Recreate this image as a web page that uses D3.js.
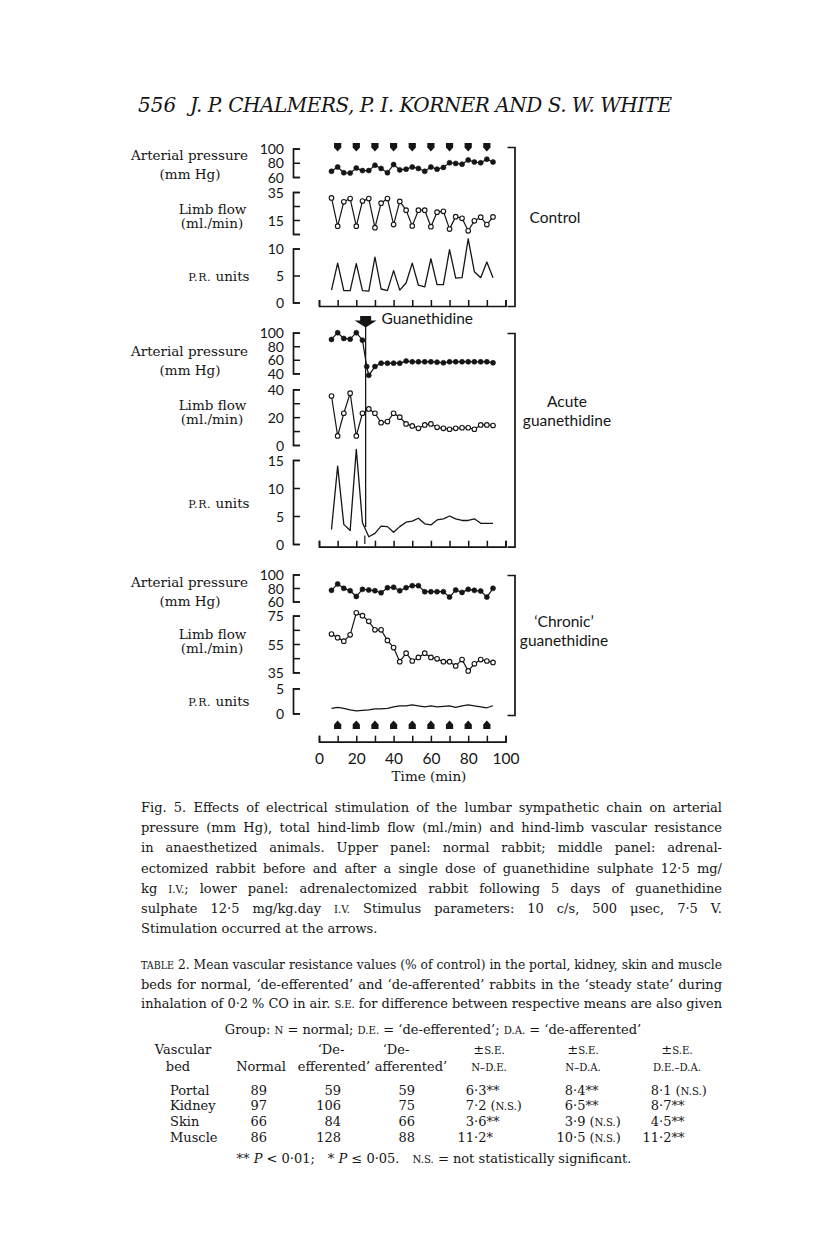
<!DOCTYPE html>
<html>
<head>
<meta charset="utf-8">
<script src="https://cdn.jsdelivr.net/npm/d3@7"></script>
<style>
body { margin: 0; background: #fff; }
svg text { fill: #151515; }
.serif { font-family: "DejaVu Serif", serif; }
.sans { font-family: Lato, "Open Sans", sans-serif; }
</style>
</head>
<body>
<div id="chart"></div>
<script>
//
// Data
//
var minutes = [6.7, 10, 13.3, 16.7, 20, 23.3, 26.7, 30, 33.3, 36.7, 40, 43.3, 46.7, 50,
	53.3, 56.7, 60, 63.3, 66.7, 70, 73.3, 76.7, 80, 83.3, 86.7, 90, 93.3];
var acutePressureMinutes = [6.7, 10, 13.3, 16.7, 20, 23.3, 25.6, 26.7, 30, 33.3, 36.7, 40, 43.3, 46.7, 50,
	53.3, 56.7, 60, 63.3, 66.7, 70, 73.3, 76.7, 80, 83.3, 86.7, 90, 93.3];
var stimMinutes = [10, 20, 30, 40, 50, 60, 70, 80, 90];
var injectionMinute = 25;
var timeTicks = [0, 10, 20, 30, 40, 50, 60, 70, 80, 90, 100];
var timeLabels = [0, 20, 40, 60, 80, 100];

// upper panel: normal rabbit
var controlPressure = [68, 74, 66, 65.5, 72.5, 69, 69, 76.5, 72, 66, 77.5, 70, 71, 74, 72, 68, 74, 71, 73.5,
	80, 79, 78, 84, 81, 80, 85, 81];
var controlFlow = [30.8, 10.6, 28, 30.3, 10.6, 28.5, 30.3, 9.5, 27, 30.3, 11.7, 28.3, 22, 10.8, 22, 22, 10.2,
	20.6, 21.2, 8.5, 17.4, 16.2, 7.3, 14.4, 17, 11.7, 17.2];
var controlPR = [2.3, 7.3, 2.2, 2.2, 7.2, 2.2, 2.1, 8.4, 2.5, 2.2, 5.9, 2.3, 3.6, 7.3, 3.2, 2.9, 8.1, 3.3, 3.3,
	9.8, 4.5, 4.6, 11.8, 5.7, 4.6, 7.5, 4.6];

// middle panel: acute guanethidine
var acutePressure = [90, 100, 91.5, 90.5, 100, 89, 50, 37, 50, 55, 55, 55, 55, 58, 57, 57, 57, 57, 56.5, 55.5,
	57, 57, 57, 57, 57, 57, 57, 55.5];
var acuteFlow = [35.2, 6.5, 22.8, 37.2, 6.5, 22.8, 25.9, 22.8, 16, 16.8, 22.8, 20, 15.1, 13.7, 12, 14.4, 15.1,
	12.7, 12, 11.3, 12, 12.4, 12.4, 11.3, 14.4, 14.4, 14];
var acutePR = [2.6, 13.9, 3.5, 2.4, 16.9, 3.8, 1.3, 1.9, 3.2, 3.1, 2.1, 3.1, 3.9, 4.1, 4.6, 3.6, 3.4, 4.3, 4.5,
	5.0, 4.5, 4.2, 4.2, 4.5, 3.7, 3.7, 3.7];

// lower panel: 'chronic' guanethidine
var chronicPressure = [76.5, 86, 79.5, 76, 67.5, 78, 77, 76, 73, 80.5, 81, 76, 80.5, 83.5, 83.5, 74.5, 74.5,
	74.5, 74.5, 66.5, 77, 73.5, 78, 76.5, 75.5, 66.5, 79.5];
var chronicFlow = [62, 59.5, 57, 61.5, 77, 75, 71, 65, 65, 57.5, 52.5, 42.5, 48.5, 43, 45.5, 48.5, 45.5, 44.5,
	42.5, 42.5, 39.5, 44, 36, 41, 44, 43, 42];
var chronicPR = [1.0, 1.2, 1.0, 0.7, 0.5, 0.6, 0.7, 0.9, 0.9, 1.0, 1.3, 1.5, 1.5, 1.7, 1.5, 1.3, 1.5, 1.3, 1.4,
	1.5, 1.2, 1.5, 1.7, 1.5, 1.3, 1.1, 1.5];

// bracket ticks and their labels
var pressureTicks60 = [60, 80, 100];
var pressureTicks40 = [40, 60, 80, 100];
var controlFlowTicks = [5, 15, 25, 35], controlFlowLabels = [15, 35];
var acuteFlowTicks = [0, 10, 20, 30, 40], acuteFlowLabels = [0, 20, 40];
var chronicFlowTicks = [35, 45, 55, 65, 75], chronicFlowLabels = [35, 55, 75];
var controlPRTicks = [0, 5, 10];
var acutePRTicks = [0, 5, 10, 15];
var chronicPRTicks = [0, 5];

// table 2
var tableBeds = ["Portal", "Kidney", "Skin", "Muscle"];
var tableNormal = [89, 97, 66, 86];
var tableDeEfferented = [59, 106, 84, 128];
var tableDeAfferented = [59, 75, 66, 88];
var seNDE = [["6", "·3**"], ["7", "·2 (", "N.S.", ")"], ["3", "·6**"], ["11", "·2*"]];
var seNDA = [["8", "·4**"], ["6", "·5**"], ["3", "·9 (", "N.S.", ")"], ["10", "·5 (", "N.S.", ")"]];
var seDEDA = [["8", "·1 (", "N.S.", ")"], ["8", "·7**"], ["4", "·5**"], ["11", "·2**"]];

//
// Set up
//
var W = 816, H = 1249;
var svg = d3.select("#chart").append("svg")
	.attr("width", W)
	.attr("height", H);

svg.append("rect")
	.attr("width", W)
	.attr("height", H)
	.attr("fill", "#fff");

var x = d3.scaleLinear().domain([0, 100]).range([319, 505.5]);

var BRACKET_X = 293,
	RIGHT_X = 514.5,
	INK = "#151515",
	BODY = 13,
	SC = 0.78;

function zip(ts, vs) {
	return vs.map(function(v, i) { return { t: ts[i], v: v }; });
}

// left bracket with labels on its left side
function bracket(y, ticks, labels) {
	var axis = d3.axisRight(y)
		.tickValues(ticks)
		.tickSize(7)
		.tickSizeOuter(7)
		.tickFormat(function(d) { return labels.indexOf(d) >= 0 ? d : ""; });

	var g = svg.append("g")
		.attr("transform", "translate(" + BRACKET_X + ",0)")
		.call(axis);

	g.select(".domain").attr("stroke", INK).attr("stroke-width", 1.7).attr("fill", "none");
	g.selectAll(".tick line").attr("stroke", INK).attr("stroke-width", 1.5);
	g.selectAll(".tick text")
		.attr("x", -9)
		.attr("dy", "0.36em")
		.attr("text-anchor", "end")
		.attr("class", "sans")
		.style("font-size", "14px")
		.attr("fill", INK);
}

function timeAxis(yPos, withLabels) {
	var axis = d3.axisBottom(x)
		.tickValues(timeTicks)
		.tickSize(-6)
		.tickSizeOuter(-6)
		.tickPadding(11)
		.tickFormat(function(d) { return withLabels && timeLabels.indexOf(d) >= 0 ? d : ""; });

	var g = svg.append("g")
		.attr("transform", "translate(0," + yPos + ")")
		.call(axis);
	g.select(".domain").attr("stroke", INK).attr("stroke-width", 1.7).attr("fill", "none");
	g.selectAll(".tick line").attr("stroke", INK).attr("stroke-width", 1.5);
	g.selectAll(".tick text")
		.attr("class", "sans")
		.style("font-size", "15.5px")
		.attr("fill", INK);
}

function rightBracket(y0, y1) {
	var s = d3.scaleLinear().domain([0, 1]).range([y0, y1]);
	var g = svg.append("g")
		.attr("transform", "translate(" + RIGHT_X + ",0)")
		.call(d3.axisLeft(s).tickValues([]).tickSizeOuter(7));
	g.select(".domain").attr("stroke", INK).attr("stroke-width", 1.7).attr("fill", "none");
}

function traceLine(y, pts, width) {
	svg.append("path")
		.datum(pts)
		.attr("d", d3.line().x(function(d) { return x(d.t); }).y(function(d) { return y(d.v); }))
		.attr("fill", "none")
		.attr("stroke", INK)
		.attr("stroke-width", width || 1.2)
		.attr("stroke-linejoin", "round");
}

function dots(y, pts, open) {
	svg.append("g").selectAll("circle")
		.data(pts)
		.enter()
		.append("circle")
		.attr("cx", function(d) { return x(d.t); })
		.attr("cy", function(d) { return y(d.v); })
		.attr("r", open ? 2.3 : 2.5)
		.attr("fill", open ? "#fff" : INK)
		.attr("stroke", INK)
		.attr("stroke-width", open ? 1.1 : 0.6);
}

function stimArrows(yc, up) {
	var s = up ? -1 : 1;
	svg.append("g").selectAll("path")
		.data(stimMinutes)
		.enter()
		.append("path")
		.attr("d", function(d) {
			var cx = x(d);
			return "M" + (cx - 3.6) + "," + (yc - 4 * s) +
				"L" + (cx + 3.6) + "," + (yc - 4 * s) +
				"L" + (cx + 3.6) + "," + (yc + 0.6 * s) +
				"L" + cx + "," + (yc + 4.6 * s) +
				"L" + (cx - 3.6) + "," + (yc + 0.6 * s) + "Z";
		})
		.attr("fill", INK);
}

// serif text with optional small caps parts; justify = stretch the word gaps to a width
function rich(g, xPos, yPos, parts, size, anchor, justify) {
	var t = g.append("text")
		.attr("class", "serif")
		.attr("x", xPos)
		.attr("y", yPos)
		.attr("text-anchor", anchor || "start")
		.style("font-size", size + "px")
		.attr("xml:space", "preserve");
	var spaces = 0;
	parts.forEach(function(p) {
		var s = typeof p === "string" ? p : p.sc;
		spaces += (s.match(/ /g) || []).length;
		var ts = t.append("tspan").text(s);
		if (typeof p !== "string") ts.style("font-size", (size * SC) + "px");
		if (p.it) ts.style("font-style", "italic");
	});
	if (justify) {
		var natural = t.node().getComputedTextLength();
		if (natural > justify || spaces === 0) {
			t.attr("textLength", justify).attr("lengthAdjust", "spacingAndGlyphs");
		} else {
			t.style("word-spacing", ((justify - natural) / spaces) + "px");
		}
	}
	return t;
}

function leftLabels(apY, lfY, prY) {
	var g = svg.append("g");
	rich(g, 189.5, apY, ["Arterial pressure"], 13.5, "middle");
	rich(g, 190, apY + 19, ["(mm Hg)"], 13.5, "middle");
	rich(g, 212.5, lfY, ["Limb flow"], 13.5, "middle");
	rich(g, 212, lfY + 14, ["(ml./min)"], 13.5, "middle");
	var pr = rich(g, 249.5, prY, [{ sc: "P.R." }, " units"], 13.5, "end");
	pr.select("tspan").style("font-size", "11px").style("letter-spacing", "0.6px");
}

function sideText(lines, cx, y0) {
	lines.forEach(function(s, i) {
		svg.append("text")
			.attr("class", "sans")
			.attr("x", cx)
			.attr("y", y0 + i * 19)
			.attr("text-anchor", "middle")
			.style("font-size", "15.5px")
			.text(s);
	});
}

//
// Header
//
svg.append("text")
	.attr("x", 138).attr("y", 112)
	.attr("class", "serif")
	.style("font-style", "italic")
	.style("font-size", "20px")
	.text("556");
svg.append("text")
	.attr("x", 190).attr("y", 112)
	.attr("class", "serif")
	.style("font-style", "italic")
	.style("font-size", "20px")
	.attr("textLength", 482)
	.attr("lengthAdjust", "spacing")
	.text("J. P. CHALMERS, P. I. KORNER AND S. W. WHITE");

//
// Upper panel - control
//
var yCP = d3.scaleLinear().domain([60, 100]).range([177, 148.5]);
var yCF = d3.scaleLinear().domain([5, 35]).range([234, 192]);
var yCR = d3.scaleLinear().domain([0, 10]).range([302.5, 248.5]);

stimArrows(147, false);
bracket(yCP, pressureTicks60, pressureTicks60);
bracket(yCF, controlFlowTicks, controlFlowLabels);
bracket(yCR, controlPRTicks, controlPRTicks);
traceLine(yCP, zip(minutes, controlPressure));
dots(yCP, zip(minutes, controlPressure), false);
traceLine(yCF, zip(minutes, controlFlow));
dots(yCF, zip(minutes, controlFlow), true);
traceLine(yCR, zip(minutes, controlPR), 1.3);
timeAxis(306, false);
rightBracket(147, 306);
leftLabels(159.5, 213.5, 281);
sideText(["Control"], 555, 223);

//
// Middle panel - acute guanethidine
//
var yAP = d3.scaleLinear().domain([40, 100]).range([373.3, 332.7]);
var yAF = d3.scaleLinear().domain([0, 40]).range([445, 389.3]);
var yAR = d3.scaleLinear().domain([0, 15]).range([544, 460]);

// injection arrow and marker line
var xi = x(injectionMinute);
svg.append("path")
	.attr("d", "M" + (xi - 5.5) + ",316 L" + (xi + 5.5) + ",316 L" + (xi + 5.5) + ",320.5 L" + (xi + 11) + ",320.5 L" +
		xi + ",327.5 L" + (xi - 11) + ",320.5 L" + (xi - 5.5) + ",320.5 Z")
	.attr("fill", INK);
svg.append("text")
	.attr("x", 381.5).attr("y", 323.5)
	.attr("class", "sans")
	.style("font-size", "15.5px")
	.text("Guanethidine");
svg.append("line")
	.attr("x1", xi).attr("x2", xi).attr("y1", 326).attr("y2", 527)
	.attr("stroke", INK).attr("stroke-width", 1.3);
svg.append("line")
	.attr("x1", xi - 0.8).attr("x2", xi - 0.8).attr("y1", 535.5).attr("y2", 544)
	.attr("stroke", INK).attr("stroke-width", 1.2);

bracket(yAP, pressureTicks40, pressureTicks40);
bracket(yAF, acuteFlowTicks, acuteFlowLabels);
bracket(yAR, acutePRTicks, acutePRTicks);
traceLine(yAP, zip(acutePressureMinutes, acutePressure));
dots(yAP, zip(acutePressureMinutes, acutePressure), false);
traceLine(yAF, zip(minutes, acuteFlow));
dots(yAF, zip(minutes, acuteFlow), true);
traceLine(yAR, zip(minutes, acutePR), 1.3);
timeAxis(546.7, false);
rightBracket(333, 546.7);
leftLabels(356, 409.5, 507.5);
sideText(["Acute", "guanethidine"], 567, 407);

//
// Lower panel - 'chronic' guanethidine
//
var yHP = d3.scaleLinear().domain([60, 100]).range([601.5, 574.5]);
var yHF = d3.scaleLinear().domain([35, 75]).range([672.3, 615.7]);
var yHR = d3.scaleLinear().domain([0, 5]).range([713.3, 688.3]);

bracket(yHP, pressureTicks60, pressureTicks60);
bracket(yHF, chronicFlowTicks, chronicFlowLabels);
bracket(yHR, chronicPRTicks, chronicPRTicks);
traceLine(yHP, zip(minutes, chronicPressure));
dots(yHP, zip(minutes, chronicPressure), false);
traceLine(yHF, zip(minutes, chronicFlow));
dots(yHF, zip(minutes, chronicFlow), true);
traceLine(yHR, zip(minutes, chronicPR), 1.2);
stimArrows(725, true);
timeAxis(741.7, true);
rightBracket(575, 715);
leftLabels(587, 638.5, 706);
sideText(["\u2018Chronic\u2019", "guanethidine"], 564, 627);

svg.append("text")
	.attr("x", 429).attr("y", 781)
	.attr("text-anchor", "middle")
	.attr("class", "serif")
	.style("font-size", "13.5px")
	.text("Time (min)");

//
// Caption
//
var capLeft = 141, capWidth = 581, capTop = 812, capStep = 20.2;
var caption = [
	["Fig. 5. Effects of electrical stimulation of the lumbar sympathetic chain on arterial"],
	["pressure (mm Hg), total hind-limb flow (ml./min) and hind-limb vascular resistance"],
	["in anaesthetized animals. Upper panel: normal rabbit; middle panel: adrenal-"],
	["ectomized rabbit before and after a single dose of guanethidine sulphate 12\u00b75 mg/"],
	["kg ", { sc: "I.V." }, "; lower panel: adrenalectomized rabbit following 5 days of guanethidine"],
	["sulphate 12\u00b75 mg/kg.day ", { sc: "I.V." }, " Stimulus parameters: 10 c/s, 500 \u03bcsec, 7\u00b75 V."],
	["Stimulation occurred at the arrows."]
];
var capG = svg.append("g");
caption.forEach(function(line, i) {
	rich(capG, capLeft, capTop + i * capStep, line, BODY, "start", i < caption.length - 1 ? capWidth : null);
});

//
// Table 2
//
var tg = svg.append("g");
rich(tg, capLeft, 969, [{ sc: "TABLE" }, " 2. Mean vascular resistance values (% of control) in the portal, kidney, skin and muscle"], BODY, "start", capWidth);
rich(tg, capLeft, 988.5, ["beds for normal, \u2018de-efferented\u2019 and \u2018de-afferented\u2019 rabbits in the \u2018steady state\u2019 during"], BODY, "start", capWidth);
rich(tg, capLeft, 1008, ["inhalation of 0\u00b72 % CO in air. ", { sc: "S.E." }, " for difference between respective means are also given"], BODY, "start", capWidth);

rich(tg, 433, 1034, ["Group: ", { sc: "N" }, " = normal; ", { sc: "D.E." }, " = \u2018de-efferented\u2019; ", { sc: "D.A." }, " = \u2018de-afferented\u2019"], BODY, "middle");

// column headers
rich(tg, 183, 1054, ["Vascular"], BODY, "middle");
rich(tg, 178, 1071, ["bed"], BODY, "middle");
rich(tg, 261, 1071, ["Normal"], BODY, "middle");
rich(tg, 331, 1054, ["\u2018De-"], BODY, "middle");
rich(tg, 334, 1071, ["efferented\u2019"], BODY, "middle");
rich(tg, 396, 1054, ["\u2018De-"], BODY, "middle");
rich(tg, 411, 1071, ["afferented\u2019"], BODY, "middle");
[[489, "N\u2013D.E."], [583, "N\u2013D.A."], [677, "D.E.\u2013D.A."]].forEach(function(h) {
	rich(tg, h[0], 1054, ["\u00b1", { sc: "S.E." }], BODY, "middle");
	rich(tg, h[0], 1071, [{ sc: h[1] }], BODY, "middle");
});

var rowY = d3.scaleLinear().domain([0, 3]).range([1094.5, 1141.5]);

tableBeds.forEach(function(bed, i) {
	var yy = rowY(i);
	rich(tg, 170, yy, [bed], BODY, "start");
	rich(tg, 267, yy, [String(tableNormal[i])], BODY, "end");
	rich(tg, 341, yy, [String(tableDeEfferented[i])], BODY, "end");
	rich(tg, 415, yy, [String(tableDeAfferented[i])], BODY, "end");
	[[474, seNDE[i]], [573, seNDA[i]], [659, seDEDA[i]]].forEach(function(c) {
		var cell = c[1];
		rich(tg, c[0], yy, [cell[0]], BODY, "end");
		var rest = [cell[1]];
		if (cell.length > 2) { rest.push({ sc: cell[2] }); rest.push(cell[3]); }
		rich(tg, c[0], yy, rest, BODY, "start");
	});
});

var P = { sc: "P", it: true };
rich(tg, 434, 1162.5, ["** ", { sc: "P", it: true }, " < 0\u00b701;\u2003* ", { sc: "P", it: true }, " \u2264 0\u00b705.\u2003", { sc: "N.S." }, " = not statistically significant."], BODY, "middle");
tg.selectAll("tspan").filter(function(d, i) { return this.textContent === "P"; })
	.style("font-size", BODY + "px");
</script>
</body>
</html>
